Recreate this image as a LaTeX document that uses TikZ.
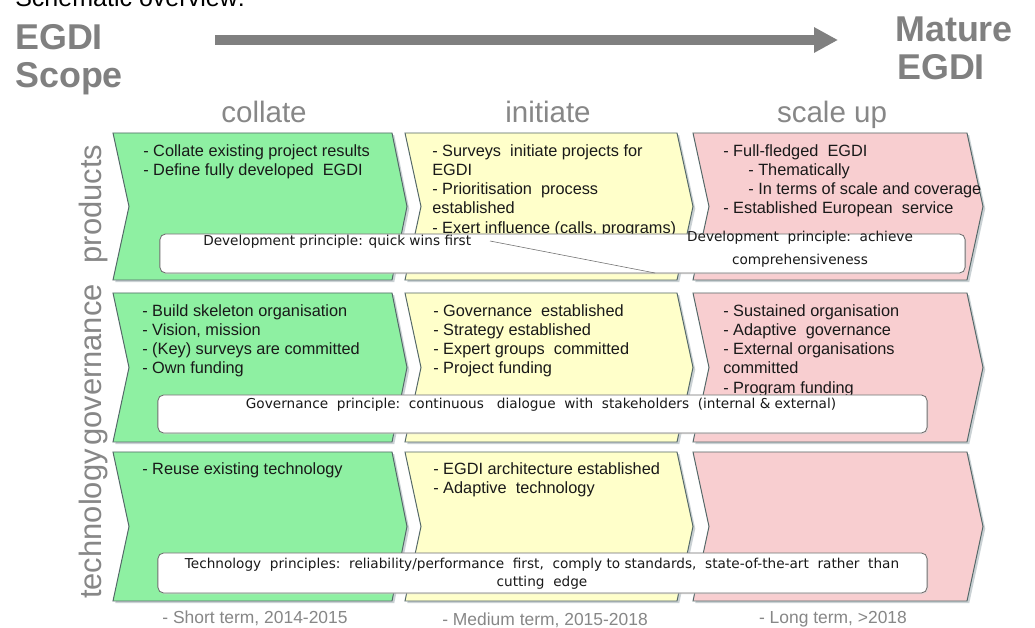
\documentclass[tikz,border=0pt]{standalone}
\usepackage{fontspec}
\setmainfont{Liberation Sans}
\newfontfamily\boxfont{DejaVu Sans}
\usepackage{xcolor}
\usetikzlibrary{positioning,arrows.meta,shadows}

\definecolor{chevgreen}{RGB}{142,240,162}
\definecolor{chevyellow}{RGB}{255,255,202}
\definecolor{chevpink}{RGB}{248,206,208}
\definecolor{chevedge}{RGB}{84,104,104}
\definecolor{chevshade}{RGB}{150,165,170}
\definecolor{boxedge}{RGB}{110,110,110}
\definecolor{titlegray}{RGB}{128,128,128}
\definecolor{labelgray}{RGB}{135,135,135}

\begin{document}
\begin{tikzpicture}[x=0.025cm, y=-0.025cm,
  chev/.style={draw=chevedge, line width=0.7pt, drop shadow={shadow xshift=1.6pt, shadow yshift=-1.6pt, fill=chevshade}},
  bullets/.style={anchor=north west, align=left, inner sep=0pt, font=\fontsize{11.6}{13.7}\selectfont, text=black!90},
  rowlabel/.style={rotate=90, anchor=base, inner sep=0pt, font=\fontsize{22}{22}\selectfont, text=labelgray},
  phasehead/.style={anchor=base, inner sep=0pt, font=\fontsize{21}{21}\selectfont, text=labelgray},
  termlabel/.style={anchor=base, inner sep=0pt, font=\fontsize{12.4}{12.4}\selectfont, text=labelgray},
  bigtitle/.style={anchor=base west, inner sep=0pt, font=\bfseries\fontsize{25.5}{25.5}\selectfont, text=titlegray},
  principle/.style={draw=boxedge, fill=white, rounded corners=4pt, line width=0.6pt, inner sep=0pt, drop shadow={shadow xshift=1pt, shadow yshift=-1pt, fill=gray!30}},
  ptext/.style={inner sep=0pt, font=\boxfont\fontsize{9.7}{12.8}\selectfont, text=black!90}
]

\path[use as bounding box, fill=white] (0,0) rectangle (1035,628);

% heading
\node[anchor=base west, inner sep=0pt, font=\fontsize{17.8}{17.8}\selectfont] (schema) at (15,7) {Schematic overview:};
\node[bigtitle] (egdi) at (15,50) {EGDI};
\node[bigtitle] (scope) at (15,88) {Scope};
\node[bigtitle] (mature) at (895,42) {Mature};
\node[bigtitle] (matureegdi) at (897,80) {EGDI};
\coordinate (arrS) at (215,40);
\coordinate (arrE) at (838,40);
\draw[line width=7pt, titlegray, -{Triangle[length=17pt,width=17pt]}] (arrS) -- (arrE);

\node[phasehead] (collate) at (264,123) {collate};
\node[phasehead] (initiate) at (548,123) {initiate};
\node[phasehead] (scaleup) at (832,123) {scale up};

% chevrons
\draw[chev, fill=chevgreen] (113,133) -- (392,133) -- (407,206.5) -- (392,280) -- (113,280) -- (129,206.5) -- cycle;
\draw[chev, fill=chevyellow] (405,133) -- (677,133) -- (693,206.5) -- (677,280) -- (405,280) -- (421,206.5) -- cycle;
\draw[chev, fill=chevpink] (693,133) -- (967,133) -- (983,206.5) -- (967,280) -- (693,280) -- (709,206.5) -- cycle;
\draw[chev, fill=chevgreen] (113,293) -- (392,293) -- (407,367.5) -- (392,442) -- (113,442) -- (129,367.5) -- cycle;
\draw[chev, fill=chevyellow] (405,293) -- (677,293) -- (693,367.5) -- (677,442) -- (405,442) -- (421,367.5) -- cycle;
\draw[chev, fill=chevpink] (693,293) -- (967,293) -- (983,367.5) -- (967,442) -- (693,442) -- (709,367.5) -- cycle;
\draw[chev, fill=chevgreen] (113,452) -- (392,452) -- (407,526.5) -- (392,601) -- (113,601) -- (129,526.5) -- cycle;
\draw[chev, fill=chevyellow] (405,452) -- (677,452) -- (693,526.5) -- (677,601) -- (405,601) -- (421,526.5) -- cycle;
\draw[chev, fill=chevpink] (693,452) -- (967,452) -- (983,526.5) -- (967,601) -- (693,601) -- (709,526.5) -- cycle;

\node[rowlabel] (products) at (101,204) {products};
\node[rowlabel] (governance) at (101,365) {governance};
\node[rowlabel] (technology) at (101,524) {technology};

% products
\node[bullets] (prodA) at (143,144) {- Collate existing project results\\- Define fully developed\ \ EGDI};
\node[bullets] (prodB) at (432,144) {- Surveys\ \ initiate projects for\\EGDI\\- Prioritisation\ \ process\\established\\- Exert influence (calls, programs)};
\node[bullets] (prodC) at (723,144) {- Full-fledged\ \ EGDI\\\hspace*{17.8pt}- Thematically\\\hspace*{17.8pt}- In terms of scale and coverage\\- Established European\ \ service};

% governance
\node[bullets] (govA) at (142,304) {- Build skeleton organisation\\- Vision, mission\\- (Key) surveys are committed\\- Own funding};
\node[bullets] (govB) at (433,304) {- Governance\ \ established\\- Strategy established\\- Expert groups\ \ committed\\- Project funding};
\node[bullets] (govC) at (723,304) {- Sustained organisation\\- Adaptive\ \ governance\\- External organisations\\committed\\- Program funding};

% technology
\node[bullets] (techA) at (142,462) {- Reuse existing technology};
\node[bullets] (techB) at (433,462) {- EGDI architecture established\\- Adaptive\ \ technology};

% principles
\node[principle, minimum width=20.125cm, minimum height=0.975cm] (prodbox) at (562.5,253.5) {};
\node[ptext, anchor=base west] (quickwins) at (203,246) {Development principle: quick wins first};
\node[ptext, anchor=north, align=center, font=\boxfont\fontsize{9.7}{16.4}\selectfont] (comprehensive) at (800,231) {Development\ \ principle:\ \ achieve\\comprehensiveness};
\coordinate (slantS) at (490,241);
\coordinate (slantE) at (655,273);
\draw[boxedge, line width=0.4pt] (slantS) -- (slantE);

\node[principle, minimum width=19.225cm, minimum height=0.95cm] (govbox) at (542.5,414) {};
\node[ptext, anchor=base] (dialogue) at (541,409) {Governance\ \ principle:\ \ continuous\ \ \ dialogue\ \ with\ \ stakeholders\ \ (internal\ \&\ external)};

\node[principle, minimum width=19.225cm, minimum height=1cm] (techbox) at (542.5,573) {};
\node[ptext, anchor=north, align=center] (reliability) at (542,558) {Technology\ \ principles:\ \ reliability/performance\ \ first,\ \ comply\ to\ standards,\ \ state-of-the-art\ \ rather\ \ than\\cutting\ \ edge};

% terms
\node[termlabel] (short) at (255,624) {- Short term, 2014-2015};
\node[termlabel] (medium) at (545,626) {- Medium term, 2015-2018};
\node[termlabel] (long) at (833,624) {- Long term, >2018};

\end{tikzpicture}
\end{document}
